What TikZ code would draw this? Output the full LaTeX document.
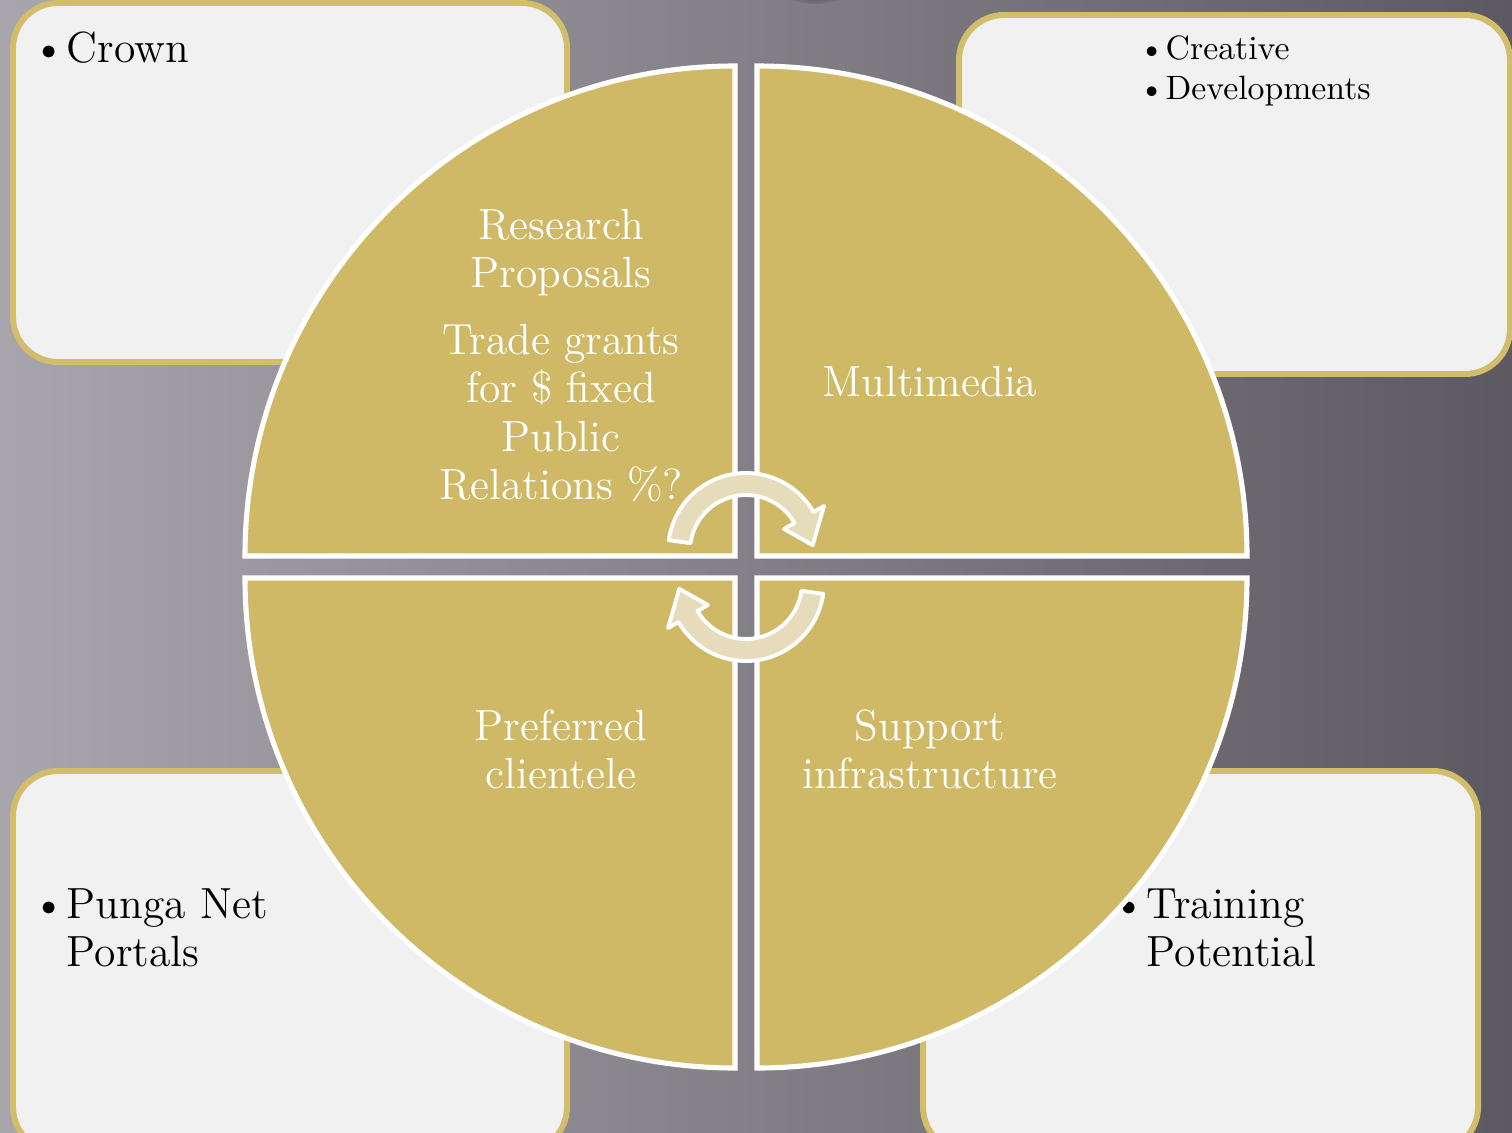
\documentclass[tikz,border=0pt]{standalone}
\usepackage{tikz}
\usetikzlibrary{calc}

\definecolor{quadgold}{HTML}{CFB967}
\definecolor{boxedge}{HTML}{D2BD6B}
\definecolor{boxfill}{HTML}{F1F1F1}
\definecolor{turnfill}{HTML}{E6DCBB}
\definecolor{bgleft}{HTML}{A8A6AC}
\definecolor{bgmid}{HTML}{7E7C82}
\definecolor{bgright}{HTML}{5C5A60}
\definecolor{bgspot}{HTML}{424046}

% bullet with hanging lines
\newcommand{\bitem}[1]{\textbullet\hspace{0.02em}\begin{tabular}[t]{@{}l@{}}#1\end{tabular}}

\begin{document}
\begin{tikzpicture}[x=0.01cm, y=0.01cm,
  cornerbox/.style={draw=boxedge, fill=boxfill, line width=1.7pt, rounded corners=0.45cm},
  quad/.style={fill=quadgold, draw=white, line width=1.45pt, line join=miter},
  turn/.style={fill=turnfill, draw=white, line width=1.1pt, line join=round},
  quadtext/.style={text=white, align=center, inner sep=0pt, font=\fontsize{12.4}{13.7}\selectfont},
  boxtext/.style={text=black, anchor=base west, inner sep=0pt, font=\fontsize{12.4}{13.7}\selectfont},
  smalltext/.style={boxtext, font=\fontsize{9.6}{11.9}\selectfont}
]
\path[use as bounding box, clip] (0,0) rectangle (1512,1132);

% background
\shade[left color=bgleft, middle color=bgmid, right color=bgright] (0,0) rectangle (1512,1132);
\shade[inner color=bgspot, outer color=bgmid!85!bgright] (815,1142) ellipse (34 and 14);

% corner boxes
\path[cornerbox] (13,770) rectangle (567,1129);
\path[cornerbox] (959,758) rectangle (1510,1117);
\path[cornerbox] (13,-20) rectangle (567,361);
\path[cornerbox] (923,-20) rectangle (1478,361);

\node[boxtext] (crown) at (32,1070) {\bitem{Crown}};
\node[smalltext] (creative) at (1138,1073) {\bitem{Creative}};
\node[smalltext] (develop) at (1138,1032) {\bitem{Developments}};
\node[boxtext] (punga) at (32,214) {\bitem{Punga Net\\Portals}};
\node[boxtext] (training) at (1112,214) {\bitem{Training\\Potential}};

% the four quarters
\coordinate (hub) at (746,565);
\foreach \dx/\dy/\a in {-11/11/90, 11/11/0, -11/-11/180, 11/-11/270}
  \path[quad] ($(hub)+(\dx,\dy)$) -- ++(\a:490) arc[start angle=\a, delta angle=90, radius=490] -- cycle;

\node[quadtext] (research) at (561,879) {Research\\Proposals};
\node[quadtext] (trade) at (561,719) {Trade grants\\for \$ fixed\\Public\\Relations \%?};
\node[quadtext] (media) at (930,750) {Multimedia};
\node[quadtext] (clients) at (561,383) {Preferred\\clientele};
\node[quadtext] (support) at (930,383) {Support\\infrastructure};

% circular arrows
\coordinate (topc) at ($(hub)+(0,16)$);
\coordinate (botc) at ($(hub)+(0,-16)$);
\path[turn] ($(topc)+(172:78)$) arc[start angle=172, end angle=30, radius=78]
  -- ($(topc)+(30:90)$) -- ($(topc)+(5:67)$) -- ($(topc)+(30:44)$) -- ($(topc)+(30:56)$)
  arc[start angle=30, end angle=172, radius=56] -- cycle;
\path[turn] ($(botc)+(-8:78)$) arc[start angle=-8, end angle=-150, radius=78]
  -- ($(botc)+(-150:90)$) -- ($(botc)+(-175:67)$) -- ($(botc)+(-150:44)$) -- ($(botc)+(-150:56)$)
  arc[start angle=-150, end angle=-8, radius=56] -- cycle;
\end{tikzpicture}
\end{document}
